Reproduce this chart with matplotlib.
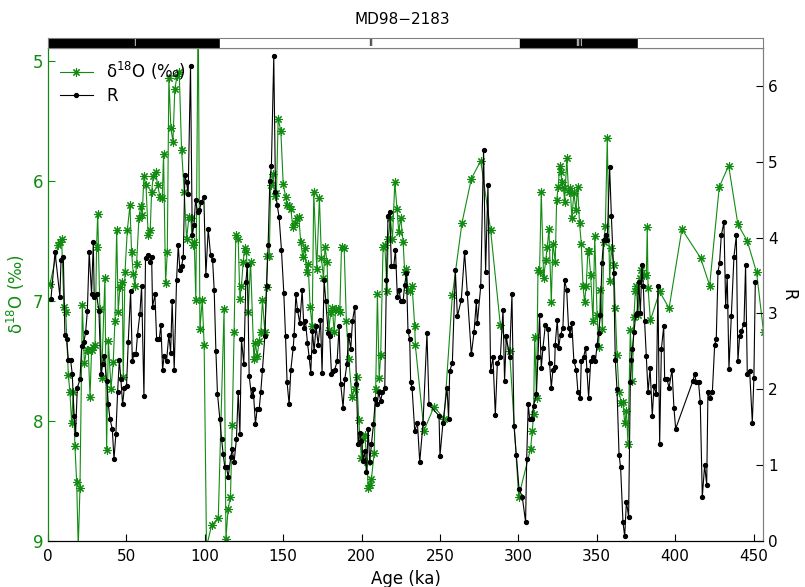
import matplotlib
matplotlib.use("Agg")
import matplotlib.pyplot as plt
from matplotlib.lines import Line2D

# d18O record (left axis, reversed)
age_o = [1.3, 6.6, 7.6, 8.7, 10.2, 11.3, 13.0, 14.0, 15.1, 16.1, 17.2, 18.3, 19.3, 20.4,
         21.9, 23.2, 24.6, 25.7, 26.8, 27.8, 28.9, 30.0, 31.0, 31.7, 33.1, 34.2, 36.3, 37.4,
         38.5, 40.2, 41.6, 42.7, 43.8, 44.8, 45.9, 47.4, 48.0, 49.1, 50.6, 52.3, 53.3, 54.4,
         55.4, 56.5, 58.0, 59.1, 60.1, 61.2, 62.5, 63.9, 65.2, 66.1, 67.1, 68.6, 69.9, 71.4,
         72.9, 73.7, 75.0, 76.1, 77.1, 78.4, 79.7, 80.9, 82.4, 83.7, 85.2, 86.9, 88.4, 89.9,
         91.1, 92.2, 93.3, 94.3, 95.8, 96.9, 98.4, 99.6, 101.1, 104.3, 108.6, 112.3, 113.5,
         114.9, 116.4, 117.5, 118.7, 119.8, 121.3, 122.4, 123.4, 124.5, 125.5, 126.6, 127.7,
         129.2, 131.3, 132.3, 133.4, 134.7, 135.7, 136.8, 138.3, 139.4, 140.0, 141.1, 142.1,
         143.4, 144.7, 145.7, 146.8, 148.5, 150.0, 151.5, 152.5, 153.6, 154.9, 156.1, 157.4,
         158.5, 160.0, 161.2, 162.5, 163.8, 164.9, 165.9, 167.2, 168.5, 169.5, 171.4, 173.1,
         174.4, 175.7, 176.7, 178.0, 179.1, 180.4, 181.4, 182.5, 183.5, 185.0, 186.1, 187.2,
         188.9, 190.3, 191.8, 193.9, 195.7, 196.9, 198.2, 199.9, 201.0, 202.0, 203.5, 204.2,
         205.2, 206.3, 208.0, 209.0, 210.1, 211.2, 212.2, 213.7, 214.8, 216.3, 216.9, 218.4,
         219.7, 221.2, 222.6, 223.7, 225.0, 226.5, 227.5, 228.6, 229.6, 230.7, 232.2, 233.9,
         234.3, 239.8, 246.2, 252.6, 257.9, 264.0, 270.0, 276.0, 282.3, 288.5, 294.4, 300.2,
         307.8, 308.9, 309.7, 310.4, 311.6, 312.5, 313.5, 314.6, 316.1, 317.4, 318.4, 319.5,
         321.0, 322.0, 323.5, 324.4, 325.4, 326.3, 326.9, 327.8, 328.8, 329.5, 330.9, 332.0,
         333.1, 334.1, 335.4, 336.7, 337.8, 339.0, 340.1, 341.2, 342.2, 343.3, 344.3, 344.8,
         346.1, 347.6, 348.7, 350.2, 351.2, 352.3, 353.6, 354.4, 355.5, 356.7, 358.2, 359.3,
         360.8, 361.8, 362.9, 364.2, 365.7, 366.7, 367.8, 368.9, 369.9, 371.4, 372.7, 373.7,
         374.6, 375.2, 376.3, 377.4, 378.4, 380.1, 381.6, 382.2, 382.7, 384.2, 390.1, 396.1,
         404.3, 416.2, 422.0, 428.1, 434.1, 440.0, 446.0, 451.9, 456.4]
d18o = [6.86, 6.53, 6.51, 6.48, 7.05, 7.09, 7.62, 7.76, 8.02, 7.76, 8.21, 8.51, 9.05, 8.56,
        7.03, 7.52, 7.41, 7.41, 7.80, 7.41, 7.38, 7.37, 6.55, 6.27, 7.07, 7.64, 6.81, 8.24,
        7.33, 7.73, 7.51, 7.17, 6.41, 7.09, 6.88, 6.84, 7.63, 6.76, 6.41, 6.20, 6.59, 6.77,
        6.87, 6.69, 6.31, 6.21, 6.28, 5.96, 6.03, 6.45, 6.41, 6.09, 5.96, 5.92, 6.03, 6.13,
        6.14, 5.77, 6.85, 6.59, 5.14, 5.56, 5.67, 5.23, 5.12, 5.09, 5.74, 6.09, 6.48, 6.30,
        6.31, 6.53, 6.51, 6.99, 4.50, 7.23, 6.99, 7.37, 9.05, 8.87, 8.81, 7.07, 8.98,
        8.73, 8.63, 8.03, 7.26, 6.45, 6.48, 6.98, 6.87, 6.67, 6.56, 6.59, 7.09,
        6.67, 7.48, 7.35, 7.46, 7.33, 7.26, 6.99, 7.26, 6.88, 6.62, 6.62, 6.03,
        5.94, 6.12, 6.10, 5.48, 5.58, 6.02, 6.13, 6.20, 6.21, 6.23, 6.38, 6.35,
        6.31, 6.30, 6.51, 6.63, 6.56, 6.76, 6.69, 7.05, 7.21, 6.09, 6.73, 6.14,
        6.64, 6.81, 6.55, 6.67, 7.24, 7.09, 7.06, 7.26, 7.07, 7.07, 7.09, 6.55,
        6.56, 7.17, 7.48, 7.80, 7.73, 7.63, 7.99, 8.31, 8.14, 8.12, 8.34, 8.56,
        8.53, 8.48, 8.27, 7.73, 6.94, 7.64, 7.45, 6.55, 6.53, 6.92, 6.48, 6.31,
        6.48, 6.01, 6.23, 6.42, 6.31, 6.51, 6.76, 6.73, 6.91, 6.92, 6.87, 7.21,
        7.37, 8.08, 7.88, 7.98, 6.95, 6.35, 5.98, 5.83, 6.41, 7.20, 7.42, 8.63,
        8.23, 8.08, 7.94, 7.30, 7.81, 6.74, 6.76, 6.09, 6.81, 6.66, 6.55, 6.40,
        7.01, 6.52, 6.67, 6.16, 6.05, 5.87, 5.92, 6.01, 6.06, 6.17, 5.81, 6.09,
        6.06, 6.31, 6.10, 6.24, 6.05, 6.35, 6.52, 6.87, 7.01, 6.87, 6.58, 6.58,
        6.78, 7.17, 6.46, 7.12, 7.38, 6.91, 7.23, 6.51, 6.37, 5.64, 6.83, 6.56,
        6.70, 7.06, 7.45, 7.76, 7.85, 7.84, 8.02, 7.92, 8.19, 7.24, 7.67, 7.13,
        6.92, 6.87, 7.12, 6.81, 6.74, 6.78, 6.78, 6.38, 6.89, 7.16, 6.92, 7.06,
        6.40, 6.64, 6.87, 6.05, 5.87, 6.36, 6.50, 6.76, 7.26]

# R record (right axis)
age_r = [1.9, 4.5, 7.6, 8.3, 9.8, 10.8, 11.9, 13.0, 14.4, 15.5, 16.6, 17.6, 18.7, 20.4,
         21.5, 22.9, 24.0, 25.1, 26.3, 27.8, 28.9, 29.5, 31.0, 32.5, 33.8, 34.8, 35.9, 37.4,
         38.5, 39.5, 41.0, 42.1, 43.3, 44.4, 45.5, 46.5, 47.6, 48.7, 50.1, 51.2, 52.7, 53.8,
         54.8, 56.1, 57.1, 58.6, 59.7, 61.2, 62.2, 63.5, 65.0, 66.1, 66.7, 68.2, 69.3, 71.0,
         72.0, 73.1, 74.1, 75.6, 77.1, 78.2, 79.2, 80.5, 82.0, 83.1, 84.1, 85.2, 86.3, 87.3,
         88.4, 89.4, 90.9, 92.0, 93.1, 94.1, 95.4, 96.5, 97.9, 99.4, 100.7, 102.2, 103.7,
         105.0, 106.0, 107.1, 108.1, 109.6, 110.7, 111.7, 112.8, 113.9, 114.9, 116.6, 117.5,
         118.7, 120.2, 121.3, 122.4, 123.4, 124.9, 126.2, 127.2, 128.3, 129.8, 130.9, 132.3,
         133.4, 134.7, 135.7, 136.8, 138.3, 139.4, 140.4, 141.5, 142.5, 144.0, 145.1, 146.2,
         147.4, 148.9, 150.4, 151.5, 152.5, 153.8, 154.9, 156.4, 157.0, 158.1, 159.1, 160.6,
         162.1, 163.2, 164.2, 165.5, 166.6, 167.6, 168.7, 169.7, 171.0, 172.3, 173.8, 174.8,
         176.1, 177.2, 178.7, 179.7, 180.8, 181.8, 182.9, 184.4, 185.7, 186.7, 188.2, 189.3,
         190.6, 191.8, 193.1, 194.2, 195.7, 196.7, 197.8, 198.8, 199.9, 201.0, 202.0, 203.1,
         204.2, 205.2, 206.3, 207.6, 208.8, 209.9, 210.9, 212.2, 213.3, 214.8, 215.8, 216.9,
         218.0, 219.0, 220.5, 221.6, 222.8, 223.9, 225.0, 226.5, 227.5, 228.6, 229.6, 230.7,
         231.3, 232.2, 233.9, 235.6, 237.1, 239.2, 241.7, 243.0, 249.4, 250.0, 251.9, 254.5,
         255.5, 256.2, 257.9, 259.8, 261.1, 263.6, 265.7, 267.4, 270.0, 271.7, 273.2, 273.8,
         276.0, 277.8, 279.1, 280.6, 282.3, 283.8, 285.3, 286.6, 288.5, 290.2, 291.2, 292.3,
         294.4, 295.9, 297.2, 298.7, 300.4, 302.5, 304.6, 305.3, 306.3, 307.2, 308.4, 309.7,
         311.4, 312.5, 313.5, 314.6, 315.7, 317.2, 318.9, 319.9, 321.0, 322.0, 323.1, 323.5,
         324.8, 325.7, 326.9, 328.4, 329.5, 330.8, 332.0, 333.1, 334.1, 335.4, 336.9, 338.0,
         339.5, 340.1, 341.6, 342.9, 343.7, 344.8, 346.1, 347.6, 349.1, 350.2, 351.2, 352.3,
         353.3, 354.4, 355.7, 356.7, 358.2, 359.3, 360.8, 361.8, 362.9, 364.2, 365.2, 366.7,
         367.8, 368.9, 370.3, 371.4, 372.0, 372.7, 373.7, 374.8, 375.7, 376.7, 377.8, 378.8,
         379.7, 380.5, 381.6, 382.7, 384.0, 385.4, 386.5, 388.0, 389.0, 390.1, 391.2, 392.7,
         393.3, 394.8, 396.1, 398.0, 399.2, 400.3, 411.3, 412.4, 413.5, 414.9, 416.0, 417.3,
         418.8, 420.1, 420.9, 422.0, 423.7, 425.2, 426.2, 427.3, 428.3, 429.4, 431.1, 432.2,
         433.2, 434.3, 435.8, 437.5, 439.0, 440.0, 441.1, 442.2, 443.9, 444.9, 446.0, 447.5,
         449.2, 450.2, 451.1]
r_val = [3.19, 3.81, 3.22, 3.70, 3.74, 2.72, 2.66, 2.39, 2.39, 2.20, 1.65, 1.41, 2.02, 2.13,
         2.57, 2.63, 2.75, 3.03, 3.81, 3.25, 3.94, 3.22, 3.25, 3.03, 2.20, 2.33, 2.44, 2.11,
         1.80, 1.61, 1.48, 1.08, 1.41, 1.96, 2.39, 2.13, 1.80, 2.02, 2.04, 2.63, 3.29, 2.37,
         2.46, 2.46, 2.72, 2.99, 3.36, 1.91, 3.73, 3.77, 3.68, 3.75, 3.09, 3.25, 2.66, 2.66,
         2.85, 2.26, 2.44, 2.37, 2.72, 2.48, 3.16, 2.26, 3.44, 3.90, 3.57, 3.62, 3.75, 4.82,
         4.73, 4.58, 6.26, 4.03, 4.16, 4.49, 4.34, 4.36, 4.47, 4.53, 3.51, 4.11, 3.77,
         3.70, 3.31, 2.50, 1.94, 1.61, 1.35, 1.15, 0.97, 0.97, 0.84, 1.11, 1.21,
         1.04, 1.35, 1.96, 1.41, 2.66, 2.33, 3.42, 3.64, 2.18, 1.91, 2.00, 1.54,
         1.74, 1.74, 1.96, 2.26, 2.70, 3.36, 3.90, 4.75, 4.95, 6.39, 4.60, 4.43,
         4.27, 3.84, 3.27, 2.70, 2.09, 1.80, 2.26, 2.55, 2.72, 3.25, 3.05, 2.87,
         3.31, 2.81, 2.90, 2.61, 2.42, 2.22, 2.77, 2.50, 2.83, 2.59, 2.92, 2.22,
         3.44, 3.16, 2.74, 2.70, 2.20, 2.24, 2.26, 2.37, 2.83, 2.07, 1.76, 2.13,
         2.33, 2.72, 2.53, 2.90, 3.09, 2.07, 1.28, 1.43, 1.32, 1.06, 1.19, 0.91,
         1.48, 1.04, 1.28, 1.54, 1.87, 1.80, 1.96, 1.85, 1.96, 2.02, 3.44, 4.29,
         4.34, 3.62, 3.62, 3.84, 3.22, 3.31, 3.16, 3.16, 3.38, 3.53, 2.77, 2.66,
         2.09, 2.02, 1.45, 1.56, 1.04, 1.56, 2.74, 1.80, 1.65, 1.12, 1.56, 2.02,
         1.61, 2.24, 2.35, 3.57, 2.96, 3.18, 3.81, 3.27, 2.46, 2.75, 3.16, 2.87,
         3.36, 5.16, 3.55, 4.69, 2.24, 2.42, 1.66, 2.35, 2.42, 3.05, 2.11, 2.70,
         2.42, 3.25, 1.52, 1.13, 0.69, 0.58, 0.25, 1.08, 1.80, 1.61, 1.61, 1.78,
         1.94, 2.42, 2.98, 2.28, 2.55, 2.85, 2.79, 2.35, 2.02, 2.26, 2.29, 2.59,
         2.92, 2.55, 2.72, 2.81, 3.44, 3.31, 2.81, 2.72, 2.87, 2.37, 2.26, 1.96,
         1.89, 2.37, 2.42, 2.55, 2.26, 1.89, 2.37, 2.42, 2.37, 2.59, 2.74, 2.98,
         3.67, 3.97, 4.03, 3.97, 4.93, 4.29, 3.54, 2.39, 2.00, 1.14, 0.97, 0.25,
         0.06, 0.52, 0.32, 2.09, 2.39, 2.53, 2.75, 2.98, 3.01, 3.42, 3.01, 3.64,
         3.36, 2.90, 2.44, 1.96, 2.28, 1.65, 2.04, 1.94, 3.36, 1.28, 2.53, 2.83,
         2.13, 2.13, 2.02, 2.26, 1.76, 1.48, 2.11, 2.20, 2.09, 2.09, 1.83, 0.58,
         1.00, 0.74, 1.96, 1.89, 1.96, 2.59, 2.66, 3.55, 3.66, 4.03, 4.20, 3.10,
         3.49, 2.27, 2.97, 3.75, 4.03, 2.37, 2.70, 2.77, 2.86, 3.64, 2.20, 2.24,
         1.56, 2.15, 3.41]

# stage bar along the top
stage_edges = [0, 110, 301, 376, 456]
stage_labels = ["I", "II", "III", ""]
stage_colors = ["black", "white", "black", "white"]

x_ticks = [0, 50, 100, 150, 200, 250, 300, 350, 400, 450]
left_ticks = [5, 6, 7, 8, 9]
right_ticks = [0, 1, 2, 3, 4, 5, 6]

fig = plt.figure(figsize=(8.05, 5.87), dpi=100)
ax = fig.add_axes([0.0596, 0.0784, 0.8882, 0.8398])
ax2 = ax.twinx()

green = "#118c11"
asterisk = (8, 2, 0)
ax.plot(age_o, d18o, color=green, lw=0.8, marker=asterisk, ms=6, mew=0.8)
ax2.plot(age_r, r_val, color="black", lw=0.8, marker="o", ms=2.8)

ax.set_xlim(0, 456)
ax.set_ylim(9, 4.89)
ax2.set_ylim(0, 6.5)
ax.set_xticks(x_ticks)
ax.set_yticks(left_ticks)
ax2.set_yticks(right_ticks)

ax.tick_params(axis="x", direction="in", length=5, labelsize=11, pad=6)
ax.tick_params(axis="y", direction="in", length=5, colors=green, labelsize=12)
ax2.tick_params(axis="y", direction="in", length=5, colors="black", labelsize=11)
ax.spines["left"].set_color(green)
ax2.spines["left"].set_color(green)
ax2.spines["right"].set_color("gray")
ax2.spines["top"].set_color("gray")
ax.spines["top"].set_color("gray")
ax.spines["right"].set_color("gray")

ax.set_xlabel("Age (ka)", fontsize=12)
ax.set_ylabel("δ$^{18}$O (‰)", color=green, fontsize=12, labelpad=4)
ax2.set_ylabel("R", fontsize=12, rotation=-90, labelpad=14)

handles = [Line2D([], [], color=green, lw=0.8, marker=asterisk, ms=6, mew=0.8),
           Line2D([], [], color="black", lw=0.8, marker="o", ms=2.8)]
ax.legend(handles, ["δ$^{18}$O (‰)", "R"], loc="upper left", frameon=False,
          fontsize=12, handlelength=2, borderaxespad=0.3, labelspacing=0.3)

# top stage bar
bar = fig.add_axes([0.0596, 0.918, 0.8882, 0.017])
for i in range(len(stage_labels)):
    lo, hi = stage_edges[i], stage_edges[i + 1]
    bar.axvspan(lo, hi, color=stage_colors[i])
    tc = "white" if stage_colors[i] == "black" else "black"
    bar.text((lo + hi) / 2, 0.5, stage_labels[i], color=tc, fontsize=6,
             ha="center", va="center")
bar.set_xlim(0, 456)
bar.set_ylim(0, 1)
bar.set_xticks([])
bar.set_yticks([])
for s in bar.spines.values():
    s.set_color("gray")
    s.set_linewidth(0.8)

fig.suptitle("MD98−2183", y=0.98, fontsize=11)
fig.savefig("out.png", dpi=100)
